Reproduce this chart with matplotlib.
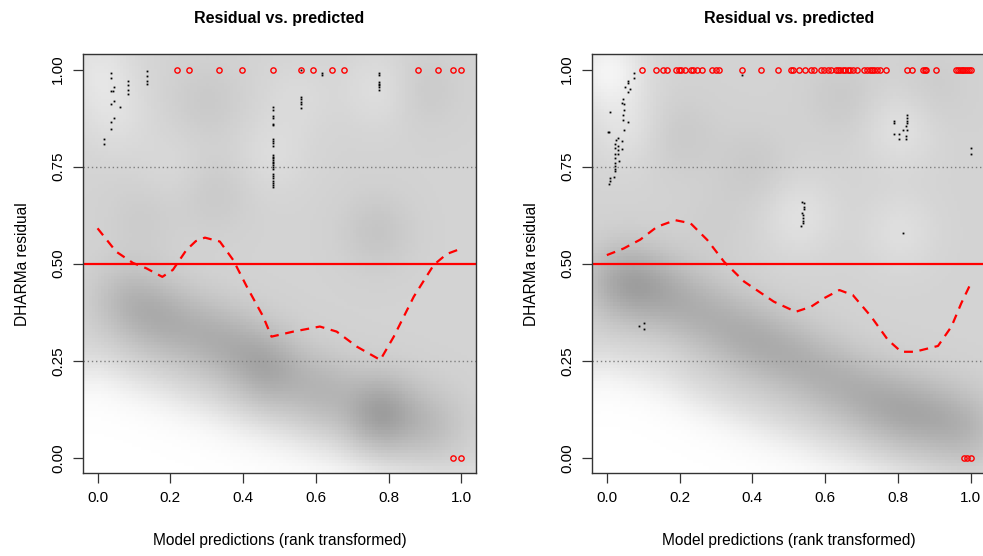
import numpy as np
import matplotlib
matplotlib.use("Agg")
import matplotlib.pyplot as plt
from matplotlib.colors import LinearSegmentedColormap

plt.rcParams["font.family"] = ["Liberation Sans", "DejaVu Sans"]

# ---- left model -------------------------------------------------------
# residuals of the low-density points (drawn as dots)
left_pts_x = [0.019, 0.019, 0.036, 0.036, 0.044, 0.036, 0.042, 0.045, 0.036, 0.061,
              0.044, 0.036, 0.036, 0.085, 0.085, 0.085, 0.085, 0.136, 0.136, 0.136,
              0.136] + [0.481] * 26 + [0.558] * 6 + [0.616, 0.616] + [0.774] * 7
left_pts_y = [0.820, 0.808, 0.991, 0.979, 0.955, 0.945, 0.944, 0.919, 0.912, 0.904,
              0.876, 0.864, 0.847, 0.971, 0.960, 0.948, 0.938, 0.996, 0.984, 0.971,
              0.964,
              0.904, 0.897, 0.880, 0.874, 0.859, 0.857, 0.820, 0.816, 0.810, 0.803,
              0.780, 0.775, 0.771, 0.767, 0.762, 0.758, 0.754, 0.750, 0.745, 0.732,
              0.725, 0.720, 0.713, 0.708, 0.702, 0.698,
              1.0, 0.928, 0.923, 0.917, 0.912, 0.900,
              0.990, 0.986,
              0.990, 0.985, 0.968, 0.964, 0.960, 0.955, 0.948]
# outliers
left_out_hi = [0.218, 0.251, 0.335, 0.397, 0.481, 0.559, 0.593, 0.644, 0.676,
               0.881, 0.935, 0.977, 1.0]
left_out_lo = [0.977, 1.0]
# smoothed residual trend
left_trend_x = [0.0, 0.051, 0.097, 0.134, 0.178, 0.207, 0.244, 0.270, 0.295, 0.336,
                0.373, 0.41, 0.455, 0.478, 0.538, 0.611, 0.657, 0.713, 0.777, 0.814,
                0.869, 0.924, 0.96, 1.0]
left_trend_y = [0.591, 0.531, 0.502, 0.488, 0.466, 0.484, 0.535, 0.558, 0.567, 0.557,
                0.509, 0.441, 0.364, 0.312, 0.325, 0.338, 0.325, 0.286, 0.252, 0.312,
                0.415, 0.497, 0.525, 0.539]
# density: lower edge of the point cloud and local density peaks
left_edge_x = [0.0, 0.2, 0.4, 0.6, 0.8, 1.0]
left_edge_y = [0.22, 0.15, 0.08, 0.02, -0.04, -0.08]
left_level = 0.38
left_blob_x = [0.08, 0.18, 0.30, 0.40, 0.48, 0.62, 0.78, 0.92,
               0.30, 0.32, 0.77, 0.90, 0.12,
               0.04, 0.48, 0.78, 0.0, 0.55, 0.2]
left_blob_y = [0.40, 0.35, 0.31, 0.27, 0.22, 0.17, 0.11, 0.08,
               0.92, 0.68, 0.58, 0.95, 0.62,
               0.88, 0.78, 0.95, 1.0, 0.93, 0.75]
left_blob_w = [0.22, 0.25, 0.22, 0.20, 0.29, 0.22, 0.44, 0.18,
               0.08, 0.08, 0.12, 0.08, 0.06,
               -0.10, -0.08, -0.10, -0.14, -0.06, -0.05]

# ---- right model ------------------------------------------------------
right_pts_x = [0.075, 0.075, 0.057, 0.059, 0.049, 0.064, 0.059, 0.045, 0.042, 0.048,
               0.048, 0.009, 0.045, 0.044, 0.058, 0.048, 0.002, 0.007, 0.031, 0.026,
               0.041, 0.023, 0.031, 0.023, 0.031, 0.041, 0.023, 0.031, 0.023, 0.033,
               0.023, 0.023, 0.023, 0.023, 0.020, 0.009, 0.009, 0.006,
               0.789, 0.789, 0.825, 0.825, 0.825, 0.825, 0.821, 0.814, 0.825, 0.789,
               0.803, 0.821, 0.821, 0.803,
               0.535, 0.542, 0.542, 0.542, 0.535, 0.538, 0.538, 0.538, 0.538, 0.533,
               0.814, 1.0, 1.0, 0.087, 0.103, 0.103, 0.372]
right_pts_y = [0.990, 0.977, 0.971, 0.966, 0.955, 0.951, 0.943, 0.925, 0.915, 0.911,
               0.895, 0.891, 0.884, 0.871, 0.864, 0.844, 0.840, 0.840, 0.824, 0.818,
               0.816, 0.808, 0.804, 0.799, 0.792, 0.796, 0.783, 0.783, 0.771, 0.765,
               0.758, 0.751, 0.745, 0.738, 0.724, 0.720, 0.713, 0.704,
               0.868, 0.863, 0.882, 0.876, 0.868, 0.863, 0.855, 0.844, 0.844, 0.835,
               0.835, 0.828, 0.820, 0.820,
               0.659, 0.657, 0.645, 0.640, 0.630, 0.625, 0.617, 0.610, 0.604, 0.597,
               0.578, 0.799, 0.782, 0.340, 0.348, 0.332, 0.985]
right_out_hi = [0.097, 0.135, 0.155, 0.165, 0.190, 0.199, 0.205, 0.216, 0.231, 0.237,
                0.248, 0.261, 0.290, 0.301, 0.309, 0.372, 0.424, 0.469, 0.506, 0.512,
                0.527, 0.544, 0.561, 0.568, 0.588, 0.597, 0.607, 0.616, 0.630, 0.634,
                0.642, 0.648, 0.655, 0.662, 0.669, 0.676, 0.688, 0.708, 0.715, 0.722,
                0.728, 0.735, 0.743, 0.752, 0.768, 0.825, 0.838, 0.869, 0.873, 0.878,
                0.905, 0.960, 0.965, 0.970, 0.975, 0.980, 0.985, 0.990, 0.995, 1.0]
right_out_lo = [0.982, 0.99, 1.0]
right_trend_x = [0.0, 0.046, 0.092, 0.138, 0.188, 0.230, 0.276, 0.322, 0.377, 0.459,
                 0.519, 0.561, 0.597, 0.639, 0.676, 0.726, 0.772, 0.809, 0.846, 0.910,
                 0.947, 0.974, 1.0]
right_trend_y = [0.522, 0.539, 0.562, 0.595, 0.612, 0.604, 0.561, 0.505, 0.454, 0.402,
                 0.376, 0.389, 0.411, 0.432, 0.419, 0.364, 0.304, 0.273, 0.273, 0.288,
                 0.338, 0.398, 0.449]
right_edge_x = [0.0, 0.2, 0.4, 0.6, 0.8, 1.0]
right_edge_y = [0.23, 0.16, 0.08, 0.01, -0.05, -0.10]
right_level = 0.38
right_blob_x = [0.02, 0.10, 0.20, 0.30, 0.40, 0.50, 0.60, 0.70, 0.80, 0.90, 1.0,
                0.20, 0.40, 0.65, 0.90, 0.30,
                0.0, 0.05, 0.53, 0.81, 0.81, 0.13]
right_blob_y = [0.45, 0.44, 0.40, 0.35, 0.30, 0.26, 0.21, 0.16, 0.12, 0.10, 0.07,
                0.83, 0.75, 0.93, 0.95, 0.60,
                1.0, 0.85, 0.62, 0.85, 0.58, 0.22]
right_blob_w = [0.24, 0.27, 0.21, 0.20, 0.23, 0.21, 0.20, 0.21, 0.25, 0.23, 0.20,
                0.08, 0.08, 0.08, 0.06, 0.04,
                -0.28, -0.12, -0.12, -0.12, -0.10, -0.04]

LIM = (-0.04, 1.04)
NBIN = 128
grey_ramp = LinearSegmentedColormap.from_list("wg", ["white", "#8c8c8c"])


def density_grid(edge_x, edge_y, level, bx, by, bw, sd=0.07):
    g = np.linspace(LIM[0], LIM[1], NBIN)
    X, Y = np.meshgrid(g, g)
    edge = np.interp(X, edge_x, edge_y)
    z = level / (1 + np.exp(-(Y - edge) / 0.035))
    for x0, y0, w in zip(bx, by, bw):
        z += w * np.exp(-((X - x0) ** 2 + (Y - y0) ** 2) / (2 * sd ** 2))
    return np.clip(z, 0, 1)


def residual_panel(ax, dens, pts_x, pts_y, out_hi, out_lo, tx, ty):
    ax.imshow(dens, extent=(LIM[0], LIM[1], LIM[0], LIM[1]), origin="lower",
              cmap=grey_ramp, vmin=0, vmax=1, interpolation="nearest", aspect="auto")
    ax.plot(pts_x, pts_y, ls="none", marker="s", ms=1.3, color="black", mew=0)
    ax.plot(out_hi, [1.0] * len(out_hi), ls="none", marker="o", ms=3.8,
            mfc="none", mec="red", mew=1.0)
    ax.plot(out_lo, [0.0] * len(out_lo), ls="none", marker="o", ms=3.8,
            mfc="none", mec="red", mew=1.0)
    for q in (0.25, 0.75):
        ax.axhline(q, color="#7f7f7f", lw=1.0, ls=(0, (1, 2)))
    ax.axhline(0.5, color="red", lw=1.6)
    ax.plot(tx, ty, color="red", lw=1.6, dashes=(4, 3))

    ax.set_xlim(*LIM)
    ax.set_ylim(*LIM)
    ax.set_xticks([0, 0.2, 0.4, 0.6, 0.8, 1.0])
    ax.set_xticklabels(["0.0", "0.2", "0.4", "0.6", "0.8", "1.0"])
    ax.set_yticks([0, 0.25, 0.5, 0.75, 1.0])
    ax.set_yticklabels(["0.00", "0.25", "0.50", "0.75", "1.00"], rotation=90, va="center")
    ax.tick_params(direction="out", length=7, width=0.9, color="#333333",
                   labelsize=11, pad=6)
    for s in ax.spines.values():
        s.set_color("#333333")
        s.set_linewidth(1.0)
    ax.set_title("Residual vs. predicted", fontsize=11.5, fontweight="bold", pad=22)
    ax.set_xlabel("Model predictions (rank transformed)", fontsize=11.2, labelpad=20)
    ax.set_ylabel("DHARMa residual", fontsize=11.2, labelpad=15)


W, H = 983, 556
fig = plt.figure(figsize=(W / 100, H / 100), dpi=100)
bottom = (H - 473.3) / H
height = (473.3 - 54) / H
ax1 = fig.add_axes([83 / W, bottom, 393 / W, height])
ax2 = fig.add_axes([592.3 / W, bottom, 393 / W, height])

residual_panel(ax1,
               density_grid(left_edge_x, left_edge_y, left_level,
                            left_blob_x, left_blob_y, left_blob_w),
               left_pts_x, left_pts_y, left_out_hi, left_out_lo,
               left_trend_x, left_trend_y)
residual_panel(ax2,
               density_grid(right_edge_x, right_edge_y, right_level,
                            right_blob_x, right_blob_y, right_blob_w),
               right_pts_x, right_pts_y, right_out_hi, right_out_lo,
               right_trend_x, right_trend_y)

fig.savefig("out.png", dpi=100)
